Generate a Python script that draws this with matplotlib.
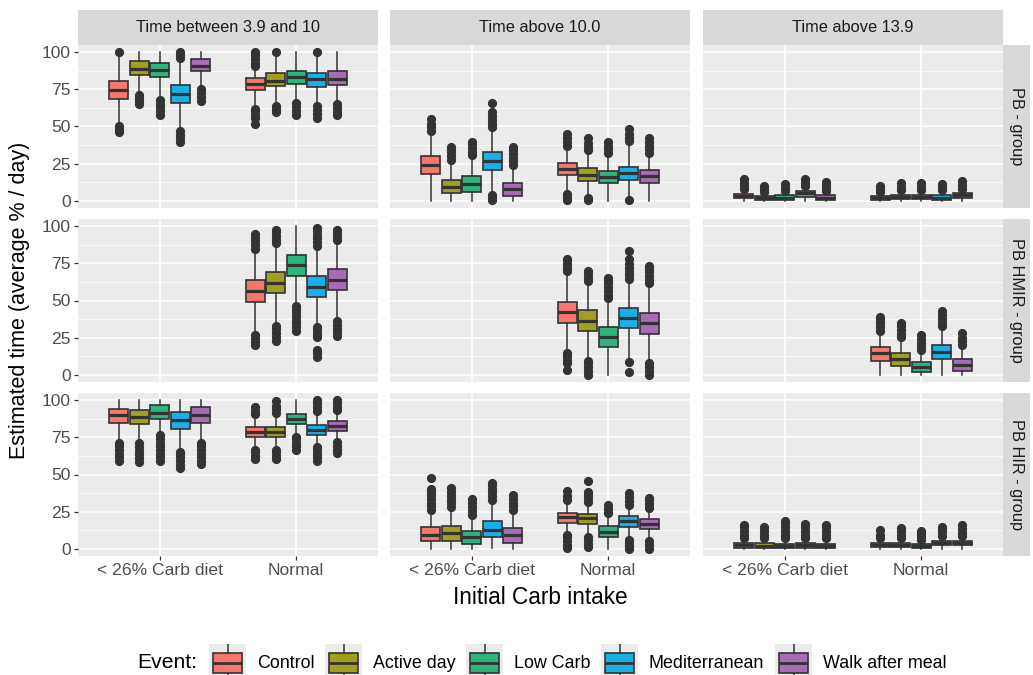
import matplotlib
matplotlib.use("Agg")
import matplotlib.pyplot as plt
from matplotlib.patches import Rectangle

plt.rcParams["font.family"] = ["Liberation Sans", "DejaVu Sans"]

# ---- categories -----------------------------------------------------------
intake_levels = ["< 26% Carb diet", "Normal"]
events = ["Control", "Active day", "Low Carb", "Mediterranean", "Walk after meal"]
event_colors = ["#F8766D", "#A0A01E", "#2CB47D", "#1BAFE8", "#A86CB4"]
metrics = ["Time between 3.9 and 10", "Time above 10.0", "Time above 13.9"]
groups = ["PB - group", "PB HMIR - group", "PB HIR - group"]
y_ticks = [0, 25, 50, 75, 100]

# ---- box statistics: (lower whisker, Q1, median, Q3, upper whisker) --------
# ten boxes per panel: five events for "< 26% Carb diet", then five for "Normal"
pb_range = [(52, 68.5, 74.8, 80.6, 97), (72, 84.9, 89, 93.9, 100), (70, 83.3, 88.3, 93, 100),
            (49.5, 66, 71.6, 77.7, 94.6), (76, 87.4, 91, 95.3, 100),
            (63, 74.3, 78.4, 82.9, 89), (65.3, 77, 81, 86, 97), (67.6, 78.8, 83.3, 87.4, 100),
            (64.9, 76.6, 82.2, 86, 96.8), (66.4, 77.7, 81.8, 87.2, 100)]
pb_range_out = [[46, 48, 50.5, 100], [65, 67, 69, 71], [58, 60.5, 63, 65.5, 68],
                [39.5, 42, 44.5, 47, 96, 98.5, 100], [67.5, 70, 72.5, 75],
                [52, 55.5, 58, 60.5, 62, 90.5, 93, 95.5, 98, 100], [60, 62, 64, 100],
                [58, 60.5, 63, 66], [56, 58.5, 61, 63.5, 100], [57.5, 60, 62.5, 65]]

pb_above10 = [(0, 18, 24.3, 30.2, 46), (0, 4.9, 9, 14.2, 26.6), (0, 6.1, 11.3, 16.9, 29.3),
              (4.5, 20.7, 27, 33.1, 48.9), (0, 3.4, 7.9, 11.7, 23.2),
              (5.6, 17.3, 21.2, 25.2, 36), (2.7, 13.5, 17.6, 22.1, 32.6), (0, 11.7, 15.8, 19.8, 31.1),
              (2.7, 13.8, 18.5, 22.5, 39.4), (0, 11.9, 16.9, 20.7, 31.5)]
pb_above10_out = [[47, 49.5, 52, 55], [27.5, 30, 32.5, 35, 36], [30.5, 33, 35.5, 38, 39.5],
                  [0.5, 2, 3.5, 49.5, 52, 54.5, 57, 59.5, 66], [24, 26.5, 29, 31.5, 34, 36],
                  [0.5, 2.5, 4.5, 37, 39.5, 42, 45], [0.5, 2, 34, 36.5, 39, 42.5],
                  [32, 34.5, 37, 39.5], [0.3, 40, 42.5, 45, 48], [32, 34.5, 37, 39.5, 42.5]]

pb_above139 = [(0, 1.5, 2.8, 4.2, 7), (0, 0.3, 1.5, 2.8, 5.5), (0, 0.5, 2, 3.5, 6),
               (0, 2.5, 4.8, 6.8, 9), (0, 0.5, 2, 3.5, 6),
               (0, 0.5, 1.8, 3.2, 5), (0, 0.8, 2.2, 3.8, 6.5), (0, 1, 2.5, 4, 6.5),
               (0, 0.5, 2, 3.5, 6.5), (0, 2, 3.5, 5, 7.5)]
pb_above139_out = [[8, 10, 12, 14.5], [6, 8, 10], [6.5, 8.5, 11], [10, 12, 14.5], [6.5, 8.5, 10.5, 12.5],
                   [5.5, 7.5, 10], [7, 9.5, 12], [7, 9.5, 12], [7, 9, 11], [8, 10.5, 13.5]]

hmir_range = [None] * 5 + [(28.1, 49.2, 56.5, 63.9, 84.1), (34.9, 54.9, 62.1, 68.9, 87.5),
                           (46.9, 66.2, 73.9, 81, 100), (32.7, 52.4, 59.2, 66.7, 85.9),
                           (36.5, 56.9, 63.9, 71.2, 89.3)]
hmir_range_out = [None] * 5 + [[19.7, 22, 24.5, 27, 85, 87.5, 90, 92.5, 95],
                               [23, 25.5, 28, 30.5, 33, 88.5, 91, 93.5, 96, 97.5],
                               [29.7, 32, 34.5, 37, 39.5, 42, 44.5, 46],
                               [12.2, 14.5, 16.8, 25.2, 27.5, 30, 32, 87, 89.5, 92, 94.5, 97, 99],
                               [26, 28.5, 31, 33.5, 36, 90.5, 93, 95.5, 97.5]]

hmir_above10 = [None] * 5 + [(15.6, 34.9, 42.2, 49.2, 68.9), (10, 29.3, 36.5, 43.3, 62.6),
                             (0, 18.4, 25.2, 32, 50.8), (11.1, 31.5, 38.3, 45.1, 63.3),
                             (8.8, 27.4, 34.9, 41.3, 61)]
hmir_above10_out = [None] * 5 + [[3.2, 7.7, 10, 12.5, 14.5, 69.6, 72, 74.5, 77, 78],
                                 [0, 2.5, 5, 7.5, 9.3, 63.3, 65.5, 68, 70],
                                 [51.5, 54, 56.5, 59, 61.5, 64, 65],
                                 [1.6, 8.8, 64.4, 67, 69.5, 72, 74.5, 78, 83.7],
                                 [0, 2.5, 5, 7.5, 61.5, 64, 66.5, 69, 71.5, 73.5]]

hmir_above139 = [None] * 5 + [(0, 9.5, 14.5, 18.4, 29.3), (0, 5.9, 10.7, 14.5, 24.7),
                              (0, 1.6, 5.4, 8.8, 15.6), (0, 10.7, 15.2, 20.2, 32),
                              (0, 2.5, 6.6, 10.7, 19)]
hmir_above139_out = [None] * 5 + [[29.7, 32, 34.5, 37, 38.8], [25.2, 27.5, 30, 32.5, 34.9],
                                  [16.8, 19, 21.5, 24, 27], [32.7, 35, 37.5, 40, 42.9],
                                  [20.2, 22.5, 25, 28]]

hir_range = [(71.6, 84.6, 90.3, 93.9, 100), (71.6, 84.1, 89.1, 93.5, 100), (77.3, 87.5, 91.6, 96.6, 100),
             (66, 80.7, 86.8, 92, 100), (71.6, 84.8, 90.3, 95.4, 100),
             (67.1, 75, 78.4, 81.8, 89.8), (67.1, 75, 78.4, 82.3, 91), (76.2, 84.1, 87.5, 91, 100),
             (69.4, 76.9, 80.3, 83.7, 92), (72.8, 79.1, 82.5, 85.9, 91.4)]
hir_range_out = [[59.2, 61.5, 64, 66.5, 69, 71], [58.7, 61, 63.5, 66, 68.5, 71],
                 [59.2, 61.5, 64, 66.5, 69, 71.5, 74, 76.7], [54.2, 56.5, 59, 61.5, 64, 65.3],
                 [56.8, 59, 61.5, 64, 66.5, 69, 71],
                 [60.3, 62.5, 65, 66.5, 90.5, 93, 95.4], [60.3, 62.5, 65, 66.5, 91.5, 94, 96.5, 99.5],
                 [66.5, 69, 71.5, 74, 75.5], [59.2, 61.5, 64, 66.5, 68.7, 93, 95.5, 98, 100],
                 [64.2, 66.5, 69, 72.1, 93.2, 95.5, 98, 100]]

hir_above10 = [(0, 4.8, 9.3, 14.3, 25.6), (0, 5.2, 10.4, 15, 27.4), (0, 3.2, 7.5, 11.6, 22.2),
               (0.2, 7.5, 12.7, 18.8, 32.4), (0, 3.6, 9.3, 13.8, 25.6),
               (10.4, 17.2, 21.1, 24, 32.4), (9.3, 16.5, 20.6, 23.6, 31), (0, 7.7, 11.1, 15, 23.4),
               (7, 14.5, 18.4, 21.8, 29), (5.9, 13.1, 16.5, 20.2, 26.7)]
hir_above10_out = [[26.3, 28.5, 31, 33.5, 36, 38.5, 39.9, 47.8], [27.9, 30.5, 33, 35.5, 38, 40.6],
                   [22.9, 25.5, 28, 30.5, 33.8], [33.1, 35.5, 38, 40.5, 43, 44.4],
                   [26.3, 28.5, 31, 33.5, 36.5],
                   [0.2, 2.5, 5, 7.5, 9.3, 33.1, 35.5, 38.8], [0.9, 3, 5.5, 8, 31.5, 34, 36.5, 38.1, 45.6],
                   [24, 26.5, 29.7], [0, 2, 4, 5.9, 29.7, 32, 34.5, 37.6], [0, 2.5, 4.8, 27.4, 30, 32.5, 34.2]]

hir_above139 = [(0, 0.5, 2.2, 3.8, 6.5), (0, 0.5, 2, 3.5, 6.5), (0, 0.3, 1.8, 3.3, 6.5),
                (0, 0.5, 2.2, 3.8, 6.5), (0, 0.3, 1.8, 3.3, 6.5),
                (0, 1.2, 2.6, 4, 6.5), (0, 1.2, 2.6, 4, 6.5), (0, 0.3, 1.6, 3, 5),
                (0, 2.3, 3.7, 5, 8), (0, 2.2, 3.7, 5, 7.8)]
hir_above139_out = [[7, 9.5, 12, 14.5, 16.1], [7, 9.5, 12, 14.3], [7, 9.5, 12, 14.5, 17, 18.4],
                    [7, 9.5, 12, 14.5, 16.5], [7, 9.5, 12, 14.5, 15.6],
                    [7, 9.5, 12.7], [7, 9.5, 12, 13.8], [5.5, 8, 10, 11.6], [8.8, 11, 13, 14.5],
                    [8.2, 10.5, 13, 15.6]]

panel_stats = [[pb_range, pb_above10, pb_above139],
               [hmir_range, hmir_above10, hmir_above139],
               [hir_range, hir_above10, hir_above139]]
panel_out = [[pb_range_out, pb_above10_out, pb_above139_out],
             [hmir_range_out, hmir_above10_out, hmir_above139_out],
             [hir_range_out, hir_above10_out, hir_above139_out]]

# ---- figure layout (pixels) ----------------------------------------------
W, H = 1033, 675
fig = plt.figure(figsize=(W / 100, H / 100), dpi=100)
fig.patch.set_facecolor("white")

col_left = [78, 390, 703]
panel_w = 300
row_top = [45, 219, 393]
panel_h = 163
strip_h = 35
rstrip_w = 27

INK = "#333333"
PANEL_BG = "#EBEBEB"
STRIP_BG = "#D9D9D9"
dodge = [-0.3, -0.15, 0.0, 0.15, 0.3]


def px_axes(l, t, w, h):
    return fig.add_axes([l / W, 1 - (t + h) / H, w / W, h / H])


for r in range(3):
    for c in range(3):
        ax = px_axes(col_left[c], row_top[r], panel_w, panel_h)
        ax.set_facecolor(PANEL_BG)
        ax.set_xlim(0.4, 2.6)
        ax.set_ylim(-5, 105)
        for s in ax.spines.values():
            s.set_visible(False)
        ax.set_yticks(y_ticks)
        ax.set_yticks([12.5, 37.5, 62.5, 87.5], minor=True)
        ax.set_xticks([1, 2])
        ax.grid(which="major", color="white", lw=1.1)
        ax.grid(which="minor", axis="y", color="white", lw=0.55)
        ax.set_axisbelow(True)
        ax.tick_params(which="minor", length=0)
        ax.tick_params(which="major", length=3, width=0.9, color=INK,
                       labelcolor="#4D4D4D", labelsize=12.6, pad=2)
        if c == 0:
            ax.set_yticklabels([str(v) for v in y_ticks])
        else:
            ax.tick_params(axis="y", length=0, labelleft=False)
        if r == 2:
            ax.set_xticklabels(intake_levels)
        else:
            ax.tick_params(axis="x", length=0, labelbottom=False)

        stats = panel_stats[r][c]
        outs = panel_out[r][c]
        for g in range(2):
            for e in range(5):
                k = g * 5 + e
                if stats[k] is None:
                    continue
                lo, q1, med, q3, hi = stats[k]
                box = dict(whislo=lo, q1=q1, med=med, q3=q3, whishi=hi, fliers=outs[k])
                ax.bxp([box], positions=[g + 1 + dodge[e]], widths=0.14,
                       patch_artist=True, showcaps=False, manage_ticks=False,
                       boxprops=dict(facecolor=event_colors[e], edgecolor=INK, lw=1.2),
                       medianprops=dict(color=INK, lw=2.3, solid_capstyle="butt"),
                       whiskerprops=dict(color=INK, lw=1.1),
                       flierprops=dict(marker="o", markerfacecolor=INK,
                                       markeredgecolor=INK, markersize=5.6, lw=0))

        # column strip
        if r == 0:
            sax = px_axes(col_left[c], row_top[0] - strip_h, panel_w, strip_h)
            sax.set_facecolor(STRIP_BG)
            sax.set_xticks([]); sax.set_yticks([])
            for s in sax.spines.values():
                s.set_visible(False)
            sax.text(0.5, 0.5, metrics[c], ha="center", va="center",
                     fontsize=11.8, color="#1A1A1A", transform=sax.transAxes)
        # row strip
        if c == 2:
            rax = px_axes(col_left[2] + panel_w, row_top[r], rstrip_w, panel_h)
            rax.set_facecolor(STRIP_BG)
            rax.set_xticks([]); rax.set_yticks([])
            for s in rax.spines.values():
                s.set_visible(False)
            rax.text(0.5, 0.5, groups[r], ha="center", va="center", rotation=-90,
                     fontsize=11.8, color="#1A1A1A", transform=rax.transAxes)

# axis titles
fig.text(20 / W, 1 - 300 / H, "Estimated time (average % / day)", rotation=90,
         ha="center", va="center", fontsize=15.5)
fig.text(540 / W, 1 - 597 / H, "Initial Carb intake", ha="center", va="center", fontsize=16.3)

# legend
fig.text(137 / W, 1 - 663 / H, "Event:", ha="left", va="center", fontsize=15.2)
key_left = [209, 325, 466, 601, 775]
for e in range(5):
    kax = px_axes(key_left[e], 644, 37, 36)
    kax.set_facecolor(PANEL_BG)
    kax.set_xlim(0, 1); kax.set_ylim(0, 1)
    kax.set_xticks([]); kax.set_yticks([])
    for s in kax.spines.values():
        s.set_visible(False)
    kax.plot([0.5, 0.5], [0.75, 1.0], color=INK, lw=1.1)
    kax.plot([0.5, 0.5], [0.0, 0.19], color=INK, lw=1.1)
    kax.add_patch(Rectangle((0.11, 0.19), 0.78, 0.56, facecolor=event_colors[e],
                            edgecolor=INK, lw=1.2))
    kax.plot([0.11, 0.89], [0.47, 0.47], color=INK, lw=2.0, solid_capstyle="butt")
    fig.text((key_left[e] + 48) / W, 1 - 663 / H, events[e], ha="left", va="center",
             fontsize=12.9)

fig.savefig("out.png", dpi=100, facecolor="white")
